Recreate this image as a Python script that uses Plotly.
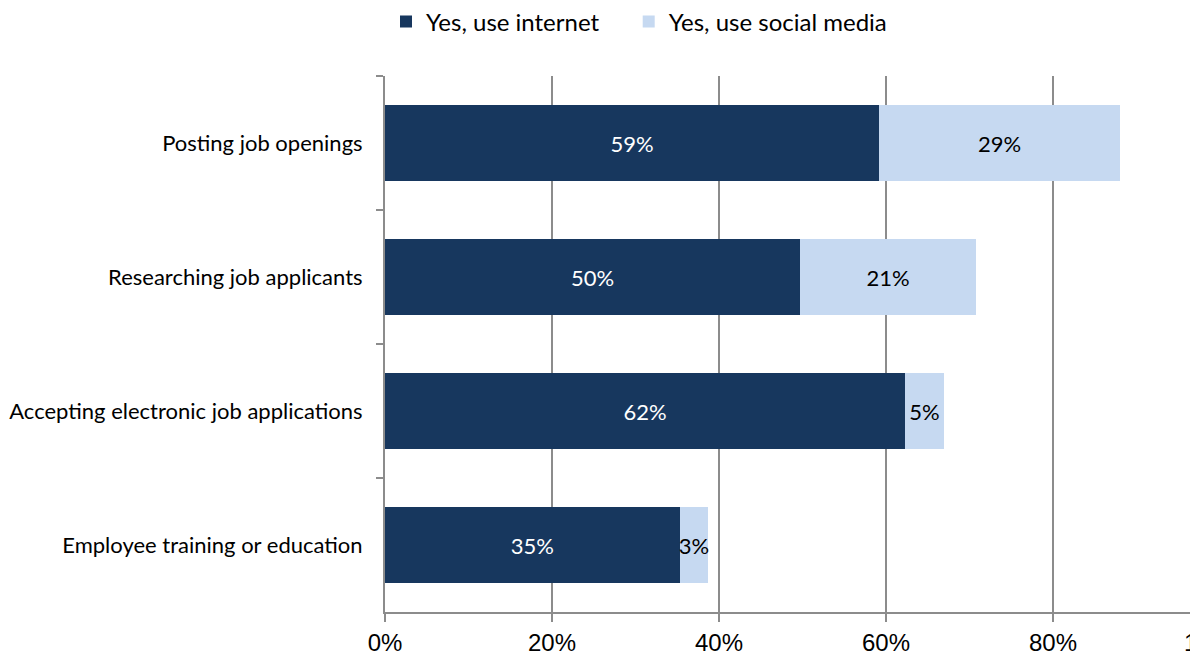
import plotly.graph_objects as go

# categories, top to bottom
tasks = ["Posting job openings", "Researching job applicants",
         "Accepting electronic job applications", "Employee training or education"]

# shares of businesses (fractions)
use_internet = [0.592, 0.497, 0.623, 0.353]
use_social = [0.288, 0.211, 0.046, 0.034]

tick_vals = [0, 0.2, 0.4, 0.6, 0.8, 1.0]

DARK = "#17375E"
LIGHT = "#C6D9F1"
GRID = "#8C8C8C"

# page has an 8px body margin, so the figure is sized to the visible area
W, H = 1190, 650
X_MAX = 813 / 835  # axis is cut off by the right edge, just before 100%


def main():
    fig = go.Figure()

    # non-breaking spaces widen the gap between the two legend entries
    fig.add_trace(go.Bar(
        y=tasks, x=use_internet, orientation="h",
        name="Yes, use internet" + "\u00a0" * 4,
        marker=dict(color=DARK, line=dict(width=0)),
        texttemplate="%{x:.0%}", textposition="inside", insidetextanchor="middle",
        textangle=0, textfont=dict(color="white", size=22, family="Lato"),
        constraintext="none",
    ))
    fig.add_trace(go.Bar(
        y=tasks, x=use_social, orientation="h", name="Yes, use social media",
        marker=dict(color=LIGHT, line=dict(width=0)),
        texttemplate="%{x:.0%}", textposition="inside", insidetextanchor="middle",
        textangle=0, textfont=dict(color="black", size=22, family="Lato"),
        constraintext="none",
    ))

    # the 100% tick label falls outside the visible range; only its edge shows
    fig.add_annotation(text="100%", xref="paper", yref="paper",
                       x=1.0 / X_MAX, y=0, yshift=-30, xshift=-6, xanchor="center",
                       yanchor="middle", showarrow=False,
                       font=dict(family="Liberation Sans", size=24, color="black"))

    fig.update_layout(
        width=W, height=H,
        margin=dict(l=377, r=0, t=68, b=46),
        barmode="stack", bargap=0.433,
        plot_bgcolor="white", paper_bgcolor="white",
        font=dict(family="Lato", color="black"),
        legend=dict(orientation="h", xref="container", yref="container",
                    x=631 / W, y=1 - 14 / H, xanchor="center", yanchor="middle",
                    font=dict(size=24, family="Lato"), itemwidth=30,
                    traceorder="normal"),
        xaxis=dict(range=[0, X_MAX], tickvals=tick_vals, tickformat=".0%",
                   showgrid=True, gridcolor=GRID, gridwidth=2,
                   showline=True, linecolor=GRID, linewidth=2,
                   ticks="outside", ticklen=8, tickcolor=GRID, tickwidth=2,
                   tickfont=dict(family="Liberation Sans", size=24),
                   zeroline=False, automargin=False),
        yaxis=dict(autorange="reversed", showline=True, linecolor=GRID, linewidth=2,
                   ticks="outside", tickson="boundaries", ticklen=7,
                   tickcolor=GRID, tickwidth=2, automargin=False,
                   tickfont=dict(family="Lato", size=22), ticklabelstandoff=16),
    )

    fig.write_html("out.html")


if __name__ == "__main__":
    main()
